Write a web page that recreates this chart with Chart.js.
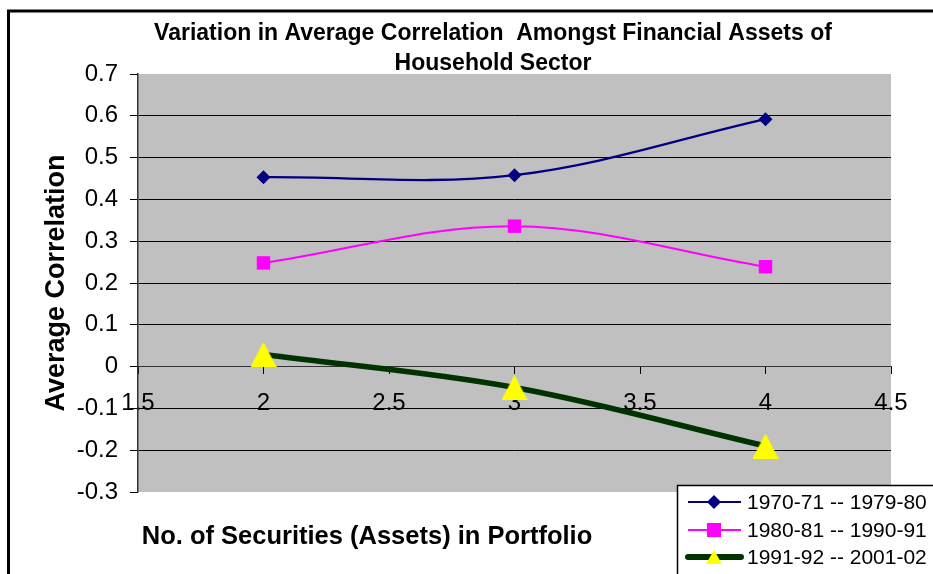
<!DOCTYPE html>
<html>
<head>
<meta charset="utf-8">
<script src="https://cdn.jsdelivr.net/npm/chart.js@4.4.1/dist/chart.umd.min.js"></script>
<style>
  html, body { margin: 0; padding: 0; background: #ffffff; }
  #wrap { width: 933px; height: 574px; position: relative; }
</style>
</head>
<body>
<div id="wrap"><canvas id="c" width="933" height="574"></canvas></div>
<script>
// ---- data ----
const chartTitle = ["Variation in Average Correlation  Amongst Financial Assets of", "Household Sector"];
const xAxisTitle = "No. of Securities (Assets) in Portfolio";
const yAxisTitle = "Average Correlation";
const portfolioSizes = [2, 3, 4];
const seriesNames = ["1970-71 -- 1979-80", "1980-81 -- 1990-91", "1991-92 -- 2001-02"];
const corr1970s = [0.453, 0.458, 0.592];
const corr1980s = [0.248, 0.336, 0.239];
const corr1990s = [0.029, -0.050, -0.190];
const xTickValues = [1.5, 2, 2.5, 3, 3.5, 4, 4.5];
const xTickLabels = ["1.5", "2", "2.5", "3", "3.5", "4", "4.5"];
const yTickValues = [-0.3, -0.2, -0.1, 0, 0.1, 0.2, 0.3, 0.4, 0.5, 0.6, 0.7];
const yTickLabels = ["-0.3", "-0.2", "-0.1", "0", "0.1", "0.2", "0.3", "0.4", "0.5", "0.6", "0.7"];

const FONT = "Arial, 'Liberation Sans', sans-serif";
const colors = ["#000080", "#FF00FF", "#003300"];

function pts(ys) { return portfolioSizes.map((x, i) => ({ x: x, y: ys[i] })); }

// triangle marker with bbox centred on the point
function triangleImg(w, h) {
  const c = document.createElement('canvas');
  c.width = w; c.height = h;
  const g = c.getContext('2d');
  g.fillStyle = '#FFFF00';
  g.beginPath(); g.moveTo(w / 2, 0); g.lineTo(w, h); g.lineTo(0, h); g.closePath(); g.fill();
  return c;
}
const triBig = triangleImg(26, 25);
const triSmall = triangleImg(16, 14);

const decorPlugin = {
  id: 'decor',
  beforeDraw(chart) {
    const ctx = chart.ctx, a = chart.chartArea;
    ctx.save();
    ctx.fillStyle = '#ffffff';
    ctx.fillRect(0, 0, chart.width, chart.height);
    ctx.strokeStyle = '#000';
    ctx.lineWidth = 3;
    ctx.strokeRect(8.5, 11, 1000, 1000);
    ctx.fillStyle = '#C0C0C0';
    ctx.fillRect(a.left, a.top, a.right - a.left, a.bottom - a.top);
    ctx.restore();
  },
  afterDraw(chart) {
    const ctx = chart.ctx, a = chart.chartArea;
    ctx.save();
    ctx.fillStyle = '#000';
    ctx.textAlign = 'center';
    ctx.textBaseline = 'middle';
    ctx.font = "bold 23px " + FONT;
    ctx.fillText(chartTitle[0], 493, 34);
    ctx.fillText(chartTitle[1], 493, 64);
    ctx.font = "bold 25.5px " + FONT;
    ctx.fillText(xAxisTitle, 367, 537);
    ctx.save();
    ctx.font = "bold 27px " + FONT;
    ctx.translate(57, (a.top + a.bottom) / 2);
    ctx.rotate(-Math.PI / 2);
    ctx.fillText(yAxisTitle, 0, 0);
    ctx.restore();

    // legend
    const lx = 677, ly = 485;
    ctx.fillStyle = '#fff';
    ctx.fillRect(lx, ly, 300, 120);
    ctx.strokeStyle = '#000';
    ctx.lineWidth = 1.5;
    ctx.strokeRect(lx + 0.5, ly + 0.5, 300, 120);
    const rows = [502, 530, 557];
    const lws = [2, 2, 6];
    ctx.font = "21px " + FONT;
    ctx.textAlign = 'left';
    for (let i = 0; i < 3; i++) {
      const y = rows[i];
      ctx.strokeStyle = colors[i];
      ctx.lineWidth = lws[i];
      ctx.lineCap = i === 2 ? 'round' : 'butt';
      ctx.beginPath(); ctx.moveTo(688, y); ctx.lineTo(741, y); ctx.stroke();
      const mx = 714;
      if (i === 0) {
        ctx.fillStyle = colors[0];
        ctx.beginPath(); ctx.moveTo(mx, y - 7); ctx.lineTo(mx + 7, y); ctx.lineTo(mx, y + 7); ctx.lineTo(mx - 7, y); ctx.closePath(); ctx.fill();
      } else if (i === 1) {
        ctx.fillStyle = colors[1];
        ctx.fillRect(mx - 7, y - 7, 14, 14);
      } else {
        ctx.drawImage(triSmall, mx - 8, y - 7);
      }
      ctx.fillStyle = '#000';
      ctx.fillText(seriesNames[i], 747, y + 1);
    }
    ctx.restore();
  }
};

new Chart(document.getElementById('c'), {
  type: 'line',
  data: {
    datasets: [
      { label: seriesNames[0], data: pts(corr1970s), borderColor: colors[0], backgroundColor: colors[0],
        borderWidth: 2.3, pointStyle: 'rectRot', pointRadius: 7, pointBorderWidth: 0, tension: 0.35, fill: false },
      { label: seriesNames[1], data: pts(corr1980s), borderColor: colors[1], backgroundColor: colors[1],
        borderWidth: 2, pointStyle: 'rect', pointRadius: 9.5, pointBorderWidth: 0, tension: 0.35, fill: false },
      { label: seriesNames[2], data: pts(corr1990s), borderColor: colors[2], backgroundColor: '#FFFF00',
        borderWidth: 5.5, pointStyle: triBig, pointRadius: 12, pointBorderWidth: 0, tension: 0.35, fill: false }
    ]
  },
  options: {
    responsive: false,
    animation: false,
    devicePixelRatio: 1,
    layout: { padding: { left: 0, right: 42, top: 74, bottom: 82 } },
    plugins: { legend: { display: false }, title: { display: false }, tooltip: { enabled: false } },
    scales: {
      x: {
        type: 'linear', min: 1.5, max: 4.5,
        position: { y: 0 },
        afterFit(s) { s.height = 0; },
        afterBuildTicks(s) { s.ticks = xTickValues.map(v => ({ value: v })); },
        ticks: { autoSkip: false, maxRotation: 0, color: '#000', padding: 15,
                 font: { family: FONT, size: 24 },
                 callback: (v, i) => xTickLabels[i] },
        grid: { drawOnChartArea: false, drawTicks: true, tickLength: 7, color: '#000', tickColor: '#000' },
        border: { display: true, color: '#333', width: 1 }
      },
      y: {
        type: 'linear', min: -0.3, max: 0.7,
        afterFit(s) { s.width = 138; },
        afterBuildTicks(s) { s.ticks = yTickValues.map(v => ({ value: v })); },
        ticks: { color: '#000', padding: 12, font: { family: FONT, size: 24 },
                 callback: (v, i) => yTickLabels[i] },
        grid: {
          drawTicks: true, tickLength: 8, tickColor: '#000', lineWidth: 1,
          color: (c) => (c.tick && (Math.abs(c.tick.value - 0.7) < 1e-6 || Math.abs(c.tick.value + 0.3) < 1e-6)) ? 'rgba(0,0,0,0)' : '#000'
        },
        border: { display: true, color: '#333', width: 1.5 }
      }
    }
  },
  plugins: [decorPlugin]
});
</script>
</body>
</html>
